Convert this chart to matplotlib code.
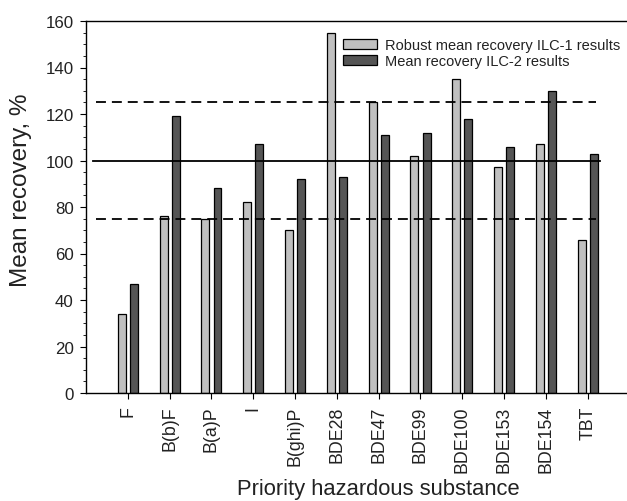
import matplotlib
matplotlib.use("Agg")
import matplotlib.pyplot as plt
import numpy as np
from matplotlib.ticker import MultipleLocator

plt.rcParams['font.family'] = ['Liberation Sans', 'DejaVu Sans']

categories = ["F", "B(b)F", "B(a)P", "I", "B(ghi)P", "BDE28", "BDE47", "BDE99",
              "BDE100", "BDE153", "BDE154", "TBT"]
ilc1 = [34, 76, 75, 82, 70, 155, 125, 102, 135, 97, 107, 66]
ilc2 = [47, 119, 88, 107, 92, 93, 111, 112, 118, 106, 130, 103]
ref_line = 100
limits = [75, 125]

fig = plt.figure(figsize=(6.27, 5.02), dpi=100)
ax = fig.add_axes([86/627, 108/502, 541/627, 372/502])

x = np.arange(1, len(categories) + 1)
w = 0.19
off = 0.145
ax.bar(x - off, ilc1, width=w, color="#c0c0c0", edgecolor="black", linewidth=0.9,
       label="Robust mean recovery ILC-1 results", zorder=2)
ax.bar(x + off, ilc2, width=w, color="#555555", edgecolor="black", linewidth=0.9,
       label="Mean recovery ILC-2 results", zorder=2)

ax.plot([0.17, 12.3], [ref_line, ref_line], color="black", linewidth=1.3, zorder=3)
for lv in limits:
    ax.plot([0.25, 12.2], [lv, lv], color="black", linewidth=1.3,
            linestyle=(0, (5.5, 3.3)), zorder=3)

ax.set_xlim(0, 12.94)
ax.set_ylim(0, 160)
ax.set_xticks(x)
ax.set_xticklabels(categories, rotation=90, fontsize=12.75, color="#222222")
ax.yaxis.set_major_locator(MultipleLocator(20))
ax.yaxis.set_minor_locator(MultipleLocator(5))
ax.tick_params(axis='y', which='major', labelsize=12.2, length=4, direction='out', pad=5,
               labelcolor="#222222")
ax.tick_params(axis='y', which='minor', length=2.5, direction='out')
ax.tick_params(axis='x', which='major', length=4, direction='out', pad=5)
ax.spines['right'].set_visible(False)
for s in ['left', 'top', 'bottom']:
    ax.spines[s].set_linewidth(1.0)

ax.set_ylabel("Mean recovery, %", fontsize=17.5, color="#222222")
ax.yaxis.set_label_coords(-0.0998, 0.548)
ax.set_xlabel("Priority hazardous substance", fontsize=15.8, color="#222222")
ax.xaxis.set_label_coords(0.541, -0.2285)

leg = ax.legend(loc="upper left", bbox_to_anchor=(0.475, 0.954), frameon=False, fontsize=10.5,
                handlelength=2.33, handleheight=0.68, labelspacing=0.12, borderpad=0.0,
                borderaxespad=0.0, handletextpad=0.55)
for t in leg.get_texts():
    t.set_color("#222222")

fig.savefig("out.png", dpi=100)
